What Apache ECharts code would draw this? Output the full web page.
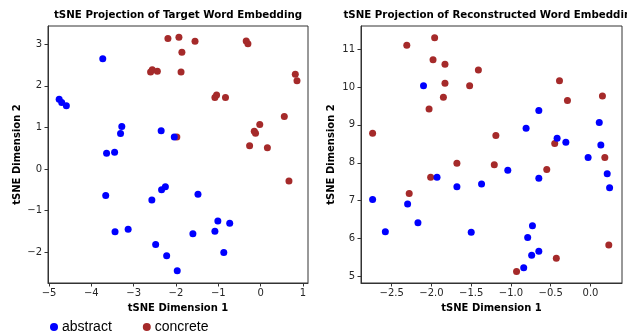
<!DOCTYPE html>
<html>
<head>
<meta charset="utf-8">
<script src="https://cdn.jsdelivr.net/npm/echarts@6.0.0/dist/echarts.min.js"></script>
<style>
  html, body { margin: 0; padding: 0; background: #fff; }
  #main { width: 627px; height: 332px; }
</style>
</head>
<body>
<div id="main"></div>
<script>
// tSNE of target word embedding (left panel)
var targetAbstract = [
    [-3.73, 2.65], [-4.76, 1.68], [-4.70, 1.60], [-4.59, 1.52], [-3.28, 1.02],
    [-3.31, 0.85], [-3.64, 0.38], [-3.45, 0.40], [-2.35, 0.92], [-2.04, 0.77],
    [-1.48, -0.61], [-1.01, -1.25], [-0.73, -1.31], [-1.08, -1.50], [-1.60, -1.56],
    [-0.87, -2.01], [-1.97, -2.45], [-3.66, -0.64], [-2.34, -0.50], [-2.25, -0.43],
    [-2.57, -0.75], [-3.44, -1.51], [-3.13, -1.45], [-2.48, -1.82], [-2.22, -2.09]
];
var targetConcrete = [
    [-2.19, 3.14], [-1.93, 3.17], [-1.86, 2.81], [-2.60, 2.33], [-2.56, 2.39],
    [-2.44, 2.35], [-1.88, 2.33], [-1.55, 3.07], [-0.34, 3.08], [-0.30, 3.01],
    [-1.08, 1.72], [-1.04, 1.78], [-0.83, 1.72], [0.82, 2.28], [0.86, 2.12],
    [0.56, 1.26], [-0.02, 1.07], [-0.15, 0.91], [-0.12, 0.86], [-0.26, 0.56],
    [0.16, 0.51], [0.67, -0.29], [-1.98, 0.77]
];

// tSNE of reconstructed word embedding (right panel)
var reconAbstract = [
    [-2.10, 10.03], [-0.65, 9.38], [-0.81, 8.91], [-0.42, 8.65], [-0.31, 8.54],
    [0.11, 9.06], [0.13, 8.47], [-0.03, 8.14], [-1.04, 7.80], [-0.65, 7.59],
    [0.21, 7.71], [0.24, 7.34], [-0.73, 6.34], [-0.79, 6.03], [-0.65, 5.67],
    [-0.74, 5.56], [-0.84, 5.23], [-1.93, 7.62], [-1.68, 7.37], [-1.37, 7.44],
    [-2.74, 7.03], [-2.30, 6.91], [-2.17, 6.42], [-2.58, 6.18], [-1.50, 6.17]
];
var reconConcrete = [
    [-1.96, 11.30], [-2.31, 11.10], [-1.98, 10.72], [-1.83, 10.60], [-1.41, 10.45],
    [-1.83, 10.10], [-1.52, 10.03], [-1.85, 9.73], [-2.03, 9.42], [-2.74, 8.78],
    [-1.19, 8.72], [-0.39, 10.16], [-0.29, 9.64], [0.15, 9.76], [-0.45, 8.51],
    [0.18, 8.14], [-1.21, 7.95], [-0.55, 7.82], [-0.43, 5.48], [-0.93, 5.13],
    [0.23, 5.83], [-1.68, 7.99], [-2.01, 7.62], [-2.28, 7.19]
];

// tick labels
var leftXTicks = [-5, -4, -3, -2, -1, 0, 1];
var leftYTicks = [-2, -1, 0, 1, 2, 3];
var rightXTicks = [-2.5, -2.0, -1.5, -1.0, -0.5, 0.0];
var rightYTicks = [5, 6, 7, 8, 9, 10, 11];

var titles = ['tSNE Projection of Target Word Embedding', 'tSNE Projection of Reconstructed Word Embedding'];
var xName = 'tSNE Dimension 1';
var yName = 'tSNE Dimension 2';

var BLUE = '#0000ff';
var RED = '#a52a2a';
var FONT = 'DejaVu Sans';

function fmt(dec) {
    return function (v) {
        return v.toFixed(dec).replace('-', '\u2212');
    };
}

function xAxis(idx, min, max, ticks, dec) {
    return {
        type: 'value', gridIndex: idx, min: min, max: max,
        name: xName, nameLocation: 'middle', nameGap: 20,
        nameTextStyle: { fontFamily: FONT, fontSize: 10, fontWeight: 'bold', color: '#000' },
        axisLine: { show: true, onZero: false, lineStyle: { color: '#333', width: 1 } },
        axisTick: { show: true, length: 3.5, customValues: ticks, lineStyle: { color: '#333' } },
        axisLabel: { customValues: ticks, formatter: fmt(dec), margin: 5,
            fontFamily: FONT, fontSize: 10, color: '#262626' },
        splitLine: { show: false }
    };
}

function yAxis(idx, min, max, ticks, gap) {
    return {
        type: 'value', gridIndex: idx, min: min, max: max,
        name: yName, nameLocation: 'middle', nameGap: gap, nameRotate: 90,
        nameTextStyle: { fontFamily: FONT, fontSize: 10, fontWeight: 'bold', color: '#000' },
        axisLine: { show: true, onZero: false, lineStyle: { color: '#333', width: 1 } },
        axisTick: { show: true, length: 3.5, customValues: ticks, lineStyle: { color: '#333' } },
        axisLabel: { customValues: ticks, formatter: fmt(0), margin: 6,
            fontFamily: FONT, fontSize: 10, color: '#262626' },
        splitLine: { show: false }
    };
}

function scatter(name, idx, data, color) {
    return {
        name: name, type: 'scatter', xAxisIndex: idx, yAxisIndex: idx,
        data: data, symbolSize: 7, itemStyle: { color: color, opacity: 1 },
        emphasis: { disabled: true }
    };
}

var chart = echarts.init(document.getElementById('main'));

var option = {
    animation: false,
    backgroundColor: '#fff',
    title: [
        { text: titles[0], left: 178, top: 10, textAlign: 'center', padding: 0,
          textStyle: { fontFamily: FONT, fontSize: 10.25, fontWeight: 'bold', color: '#000' } },
        { text: titles[1], left: 491, top: 10, textAlign: 'center', padding: 0,
          textStyle: { fontFamily: FONT, fontSize: 10.25, fontWeight: 'bold', color: '#000' } }
    ],
    legend: {
        data: ['abstract', 'concrete'],
        left: 50, top: 320, padding: 0,
        icon: 'circle', itemWidth: 8, itemHeight: 8, itemGap: 31,
        textStyle: { fontFamily: 'Liberation Sans', fontSize: 14, color: '#000', padding: [0, 0, 0, -1] }
    },
    grid: [
        { left: 48, top: 26, width: 260, height: 257, show: true,
          borderColor: '#333', borderWidth: 1, backgroundColor: 'transparent' },
        { left: 361, top: 26, width: 261, height: 257, show: true,
          borderColor: '#333', borderWidth: 1, backgroundColor: 'transparent' }
    ],
    xAxis: [
        xAxis(0, -5.024, 1.12, leftXTicks, 0),
        xAxis(1, -2.886, 0.396, rightXTicks, 1)
    ],
    yAxis: [
        yAxis(0, -2.745, 3.44, leftYTicks, 26),
        yAxis(1, 4.83, 11.607, rightYTicks, 25)
    ],
    series: [
        scatter('concrete', 0, targetConcrete, RED),
        scatter('abstract', 0, targetAbstract, BLUE),
        scatter('concrete', 1, reconConcrete, RED),
        scatter('abstract', 1, reconAbstract, BLUE)
    ]
};

chart.setOption(option);
</script>
</body>
</html>
